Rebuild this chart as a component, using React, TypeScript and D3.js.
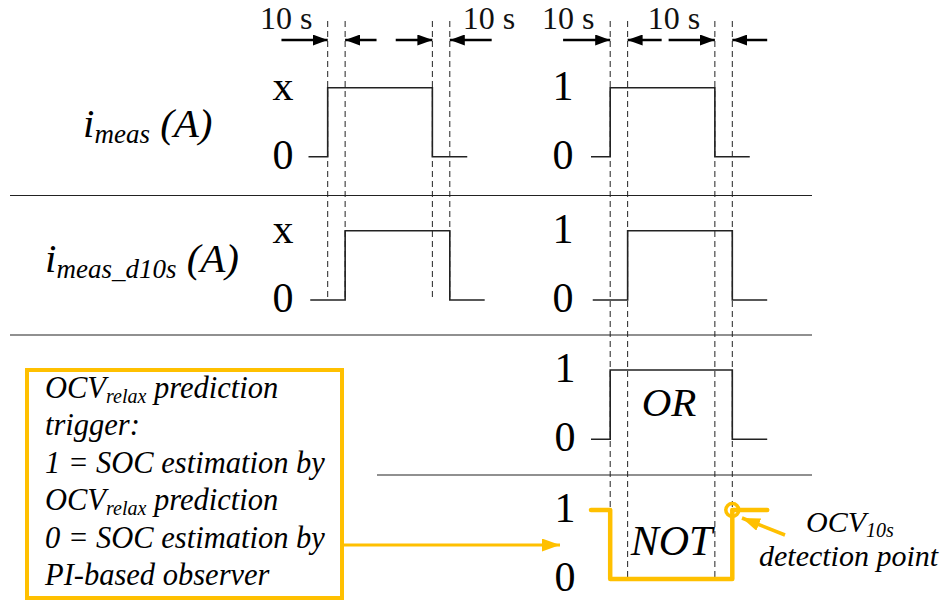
import * as d3 from "d3";

// timing of the dashed reference lines (s)
const markTimes = [11, 21, 71, 81];

// step signals: time (s) and level
const imeasT = [0, 11, 71, 91];
const imeasV = [0, 1, 0, 0];
const delayedT = [1, 21, 81, 101];
const delayedV = [0, 1, 0, 0];
const orT = [0, 11, 81, 101];
const orV = [0, 1, 0, 0];
const notT = [0, 11, 81, 101];
const notV = [1, 0, 1, 1];

const leftTicks = ["0", "x"];
const rightTicks = ["0", "1"];
const delayLabel = "10 s";

// delay arrows [tail, tip] in seconds
const leftArrows = [[-15.5, 11], [39, 21], [50, 71], [105, 81]];
const rightArrows = [[-16, 11], [40.5, 21], [44.5, 71], [101, 81]];
const leftDelayAt = [-12.8, 103.5];
const rightDelayAt = [-13, 47.5];

// text in the yellow box: [main, subscript, rest]
const boxLines = [
  ["OCV", "relax", " prediction"],
  ["trigger:", "", ""],
  ["1 = SOC estimation by", "", ""],
  ["OCV", "relax", " prediction"],
  ["0 = SOC estimation by", "", ""],
  ["PI-based observer", "", ""],
];

const FONT = "'Liberation Serif', 'Times New Roman', serif";
const YELLOW = "#FFC000";
const INK = "#222";

const W = 947;
const H = 601;

const xLeft = d3.scaleLinear().domain([0, 101]).range([308.5, 484.7]);
const xRight = d3.scaleLinear().domain([0, 101]).range([591, 767.2]);

const rowBase = [156.7, 300, 439.3, 579];
const rowHigh = [87.7, 230.7, 370, 510];
const yRow = rowBase.map((b, i) => d3.scaleLinear().domain([0, 1]).range([b, rowHigh[i]]));

const stepPath = (x, y, ts, vs) =>
  d3
    .line()
    .x((d) => x(d[0]))
    .y((d) => y(d[1]))
    .curve(d3.curveStepAfter)(ts.map((t, i) => [t, vs[i]]));

const Ticks = ({ x, row, labels }) => (
  <g>
    {labels.map((l, i) => (
      <text
        key={i}
        x={x}
        y={yRow[row](i) + 12}
        textAnchor="middle"
        fontSize={42}
        fontFamily={FONT}
        fill="#000"
      >
        {l}
      </text>
    ))}
  </g>
);

export default function App() {
  const leftSignals = [
    stepPath(xLeft, yRow[0], imeasT, imeasV),
    stepPath(xLeft, yRow[1], delayedT, delayedV),
  ];
  const rightSignals = [
    stepPath(xRight, yRow[0], imeasT, imeasV),
    stepPath(xRight, yRow[1], delayedT, delayedV),
    stepPath(xRight, yRow[2], orT, orV),
  ];
  const notPath = stepPath(xRight, yRow[3], notT, notV);

  const arrowY = 40;

  return (
    <svg
      width={W}
      height={H}
      style={{ position: "absolute", left: 0, top: 0, background: "#fff" }}
    >
      <defs>
        <marker id="blackHead" markerUnits="userSpaceOnUse" markerWidth={15} markerHeight={11} refX={15} refY={5.5} orient="auto">
          <path d="M0,0 L15,5.5 L0,11 Z" fill="#000" />
        </marker>
        <marker id="yellowHead" markerUnits="userSpaceOnUse" markerWidth={18} markerHeight={13} refX={18} refY={6.5} orient="auto">
          <path d="M0,0 L18,6.5 L0,13 Z" fill={YELLOW} />
        </marker>
      </defs>

      {/* separators */}
      <line x1={10} x2={812} y1={195.5} y2={195.5} stroke={INK} strokeWidth={1.2} />
      <line x1={10} x2={812} y1={335} y2={335} stroke={INK} strokeWidth={1.2} />
      <line x1={377} x2={812} y1={475} y2={475} stroke={INK} strokeWidth={1.2} />

      {/* dashed reference lines */}
      {markTimes.map((t) => (
        <line key={"l" + t} x1={xLeft(t)} x2={xLeft(t)} y1={21} y2={300} stroke={INK} strokeWidth={1} strokeDasharray="6,4" />
      ))}
      {markTimes.map((t) => (
        <line key={"r" + t} x1={xRight(t)} x2={xRight(t)} y1={21} y2={580} stroke={INK} strokeWidth={1} strokeDasharray="6,4" />
      ))}

      {/* delay arrows */}
      {leftArrows.map((a, i) => (
        <line key={"la" + i} x1={xLeft(a[0])} x2={xLeft(a[1])} y1={arrowY} y2={arrowY} stroke="#000" strokeWidth={2.5} markerEnd="url(#blackHead)" />
      ))}
      {rightArrows.map((a, i) => (
        <line key={"ra" + i} x1={xRight(a[0])} x2={xRight(a[1])} y1={arrowY} y2={arrowY} stroke="#000" strokeWidth={2.5} markerEnd="url(#blackHead)" />
      ))}
      {leftDelayAt.map((t, i) => (
        <text key={"ld" + i} x={xLeft(t)} y={29} textAnchor="middle" fontSize={32} fontFamily={FONT} fill="#111">
          {delayLabel}
        </text>
      ))}
      {rightDelayAt.map((t, i) => (
        <text key={"rd" + i} x={xRight(t)} y={29} textAnchor="middle" fontSize={32} fontFamily={FONT} fill="#111">
          {delayLabel}
        </text>
      ))}

      {/* signals */}
      {leftSignals.concat(rightSignals).map((d, i) => (
        <path key={"s" + i} d={d} fill="none" stroke={INK} strokeWidth={1.6} />
      ))}
      <path d={notPath} fill="none" stroke={YELLOW} strokeWidth={4.5} strokeLinejoin="round" strokeLinecap="round" />

      {/* tick labels */}
      <Ticks x={283} row={0} labels={leftTicks} />
      <Ticks x={283} row={1} labels={leftTicks} />
      <Ticks x={563} row={0} labels={rightTicks} />
      <Ticks x={563} row={1} labels={rightTicks} />
      <Ticks x={565} row={2} labels={rightTicks} />
      <Ticks x={565} row={3} labels={rightTicks} />

      {/* row names */}
      <text x={83} y={137} fontSize={41} fontStyle="italic" fontFamily={FONT} fill="#000">
        i<tspan fontSize={27} dy={6}>meas</tspan>
        <tspan dy={-6}> (A)</tspan>
      </text>
      <text x={45} y={272} fontSize={41} fontStyle="italic" fontFamily={FONT} fill="#000">
        i<tspan fontSize={27} dy={6}>meas_d10s</tspan>
        <tspan dy={-6}> (A)</tspan>
      </text>

      <text x={669} y={416} textAnchor="middle" fontSize={41} fontStyle="italic" fontFamily={FONT} fill="#000">
        OR
      </text>
      <text x={671.5} y={555} textAnchor="middle" fontSize={42} fontStyle="italic" fontFamily={FONT} fill="#000">
        NOT
      </text>

      {/* trigger box */}
      <rect x={27} y={370} width={315} height={228} fill="none" stroke={YELLOW} strokeWidth={4} />
      {boxLines.map((l, i) => (
        <text key={"b" + i} x={45} y={398 + i * 37.4} fontSize={30.5} fontStyle="italic" fontFamily={FONT} fill="#000">
          {l[0]}
          {l[1] && (
            <tspan fontSize={20} dy={5}>
              {l[1]}
            </tspan>
          )}
          {l[1] && <tspan dy={-5}>{l[2]}</tspan>}
        </text>
      ))}
      <line x1={342} x2={560} y1={545} y2={545} stroke={YELLOW} strokeWidth={3} markerEnd="url(#yellowHead)" />

      {/* detection point */}
      <circle cx={xRight(81)} cy={yRow[3](1)} r={6.5} fill="none" stroke={YELLOW} strokeWidth={3.5} />
      <line x1={785} y1={535} x2={742} y2={518} stroke={YELLOW} strokeWidth={3.5} markerEnd="url(#yellowHead)" />
      <text x={806} y={532} fontSize={30} fontStyle="italic" fontFamily={FONT} fill="#000">
        OCV<tspan fontSize={20} dy={5}>10s</tspan>
      </text>
      <text x={759} y={566} fontSize={30} fontStyle="italic" fontFamily={FONT} fill="#000">
        detection point
      </text>
    </svg>
  );
}
